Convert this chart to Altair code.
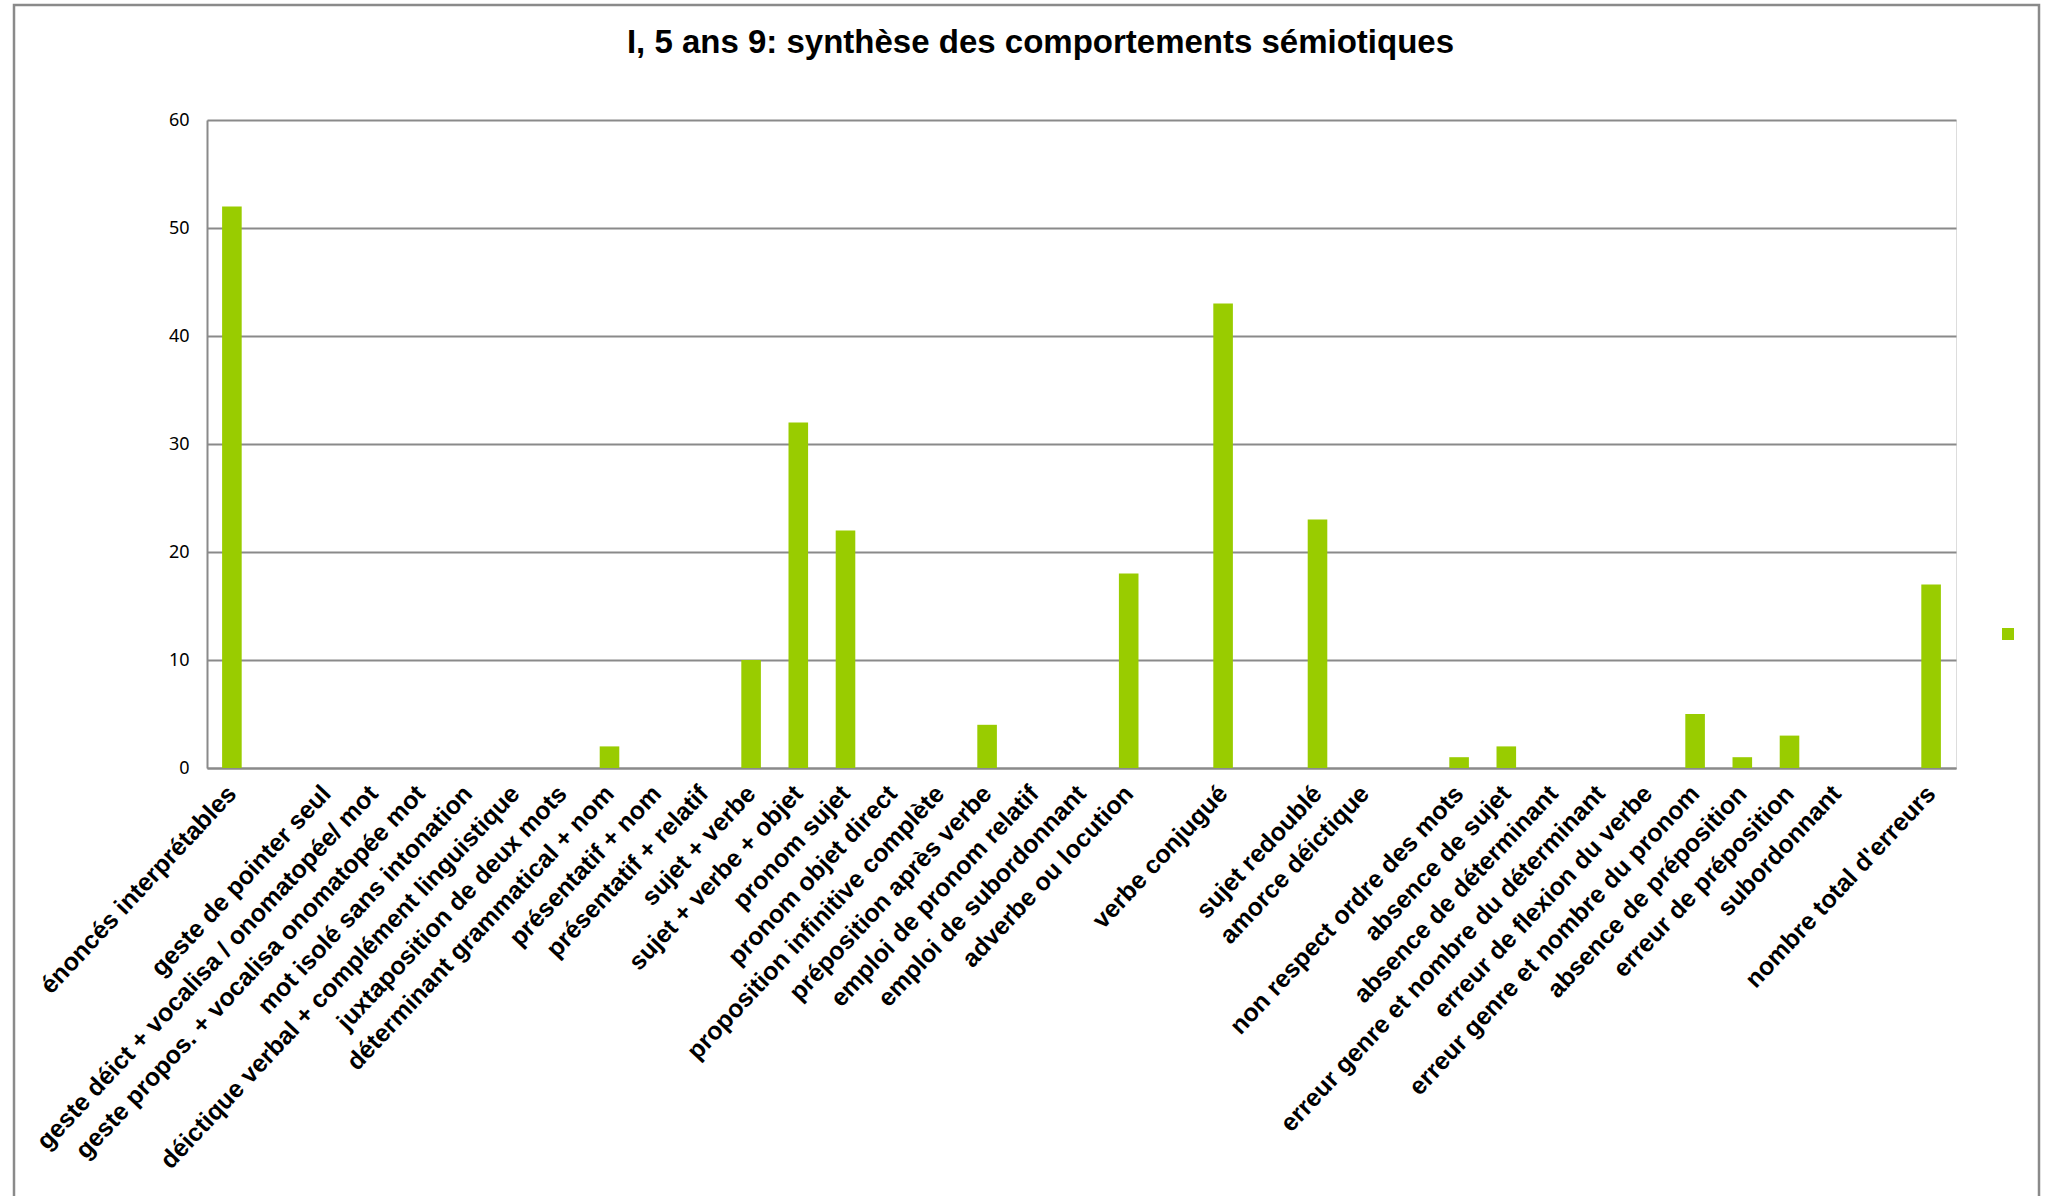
import altair as alt
import pandas as pd

# Categories in axis order; whitespace-only entries are empty slots between groups
categories = [
    "énoncés interprétables", " ",
    "geste de pointer seul",
    "geste déict + vocalisa / onomatopée/ mot",
    "geste propos. + vocalisa onomatopée mot",
    "mot isolé sans intonation",
    "déictique verbal + complément linguistique",
    "juxtaposition de deux mots",
    "déterminant grammatical + nom",
    "présentatif + nom",
    "présentatif + relatif",
    "sujet + verbe",
    "sujet + verbe + objet",
    "pronom sujet",
    "pronom objet direct",
    "proposition infinitive complète",
    "préposition après verbe",
    "emploi de pronom relatif",
    "emploi de subordonnant",
    "adverbe ou locution", "  ",
    "verbe conjugué", "   ",
    "sujet redoublé",
    "amorce déictique", "    ",
    "non respect ordre des mots",
    "absence de sujet",
    "absence de déterminant",
    "erreur genre et nombre du déterminant",
    "erreur de flexion du verbe",
    "erreur genre et nombre du pronom",
    "absence de préposition",
    "erreur de préposition",
    "subordonnant", "     ",
    "nombre total d'erreurs",
]

values = [
    52, None,
    0, 0, 0, 0, 0, 0,
    2, 0, 0,
    10, 32, 22,
    0, 0, 4, 0, 0,
    18, None,
    43, None,
    23, 0, None,
    1, 2, 0, 0, 0, 5, 1, 3, 0, None,
    17,
]

series_name = ""
bar_color = "#99CC00"
frame_color = "#8a8a8a"

df = pd.DataFrame({"categorie": categories, "valeur": values, "serie": series_name})

plot_w, plot_h = 1749, 648

bars = alt.Chart(df).mark_bar(color=bar_color).encode(
    x=alt.X(
        "categorie:N",
        sort=categories,
        scale=alt.Scale(domain=categories, paddingInner=0.585, paddingOuter=0.32),
        axis=alt.Axis(
            title=None,
            labelAngle=-47,
            labelAlign="right",
            labelBaseline="middle",
            labelFont="Liberation Sans",
            labelFontSize=25,
            labelFontWeight="bold",
            labelColor="#000000",
            labelPadding=21,
            labelLimit=2000,
            labelOverlap=False,
            ticks=False,
            domainColor=frame_color,
            domainWidth=2,
        ),
    ),
    y=alt.Y(
        "valeur:Q",
        scale=alt.Scale(domain=[0, 60], nice=False),
        axis=alt.Axis(
            title=None,
            values=[0, 10, 20, 30, 40, 50, 60],
            grid=True,
            gridColor=frame_color,
            gridWidth=2,
            domainColor=frame_color,
            domainWidth=2,
            ticks=False,
            labelPadding=18,
            labelFont="Noto Sans",
            labelFontSize=18,
            labelColor="#000000",
        ),
    ),
    color=alt.Color(
        "serie:N",
        scale=alt.Scale(range=[bar_color]),
        legend=alt.Legend(
            title=None,
            orient="none",
            legendX=1795,
            legendY=508,
            symbolType="square",
            symbolSize=144,
            symbolStrokeWidth=0,
            labelFontSize=1,
            padding=0,
        ),
    ),
)

# Outer frame of the chart area
frame = alt.Chart(pd.DataFrame({"k": [0]})).mark_rect(
    fillOpacity=0, stroke=frame_color, strokeWidth=2.5
).encode(
    x=alt.value(-193), x2=alt.value(1832), y=alt.value(-115), y2=alt.value(1100)
)

# The title sits inside the outer frame, so its offset is measured back from the frame's top edge
chart = alt.layer(bars, frame).properties(
    width=plot_w,
    height=plot_h,
    autosize=alt.AutoSizeParams(type="none"),
    padding={"left": 207, "top": 120, "right": 93, "bottom": 428},
    title=alt.TitleParams(
        "I, 5 ans 9: synthèse des comportements sémiotiques",
        font="Liberation Sans",
        fontSize=33,
        fontWeight="bold",
        color="#000000",
        anchor="middle",
        frame="group",
        dx=-41,
        offset=-56,
    ),
).configure_view(stroke=None).configure(background="white")

chart.save("out.html", embed_options={"renderer": "svg", "actions": False})
